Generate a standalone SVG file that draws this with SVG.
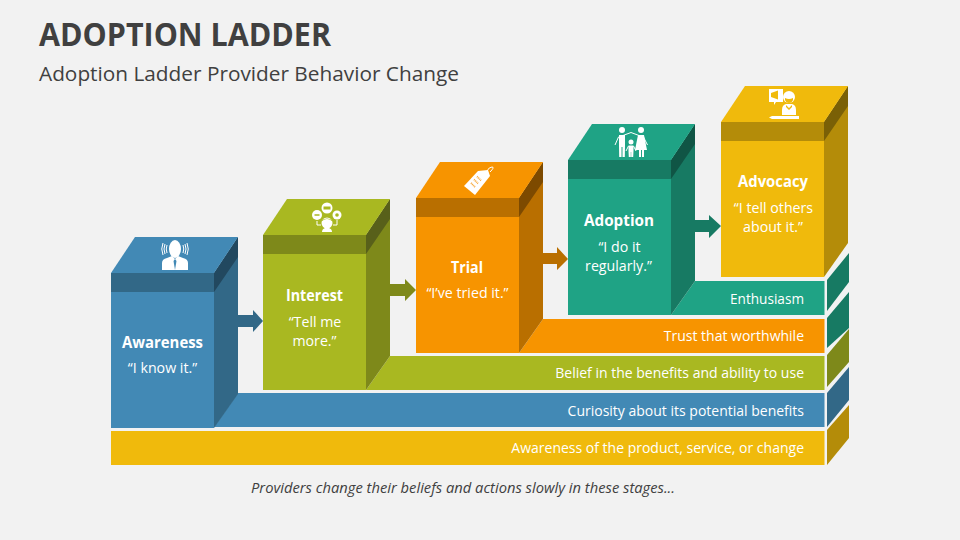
<svg xmlns="http://www.w3.org/2000/svg" width="960" height="540" viewBox="0 0 960 540">
<style>
text{font-family:"Open Sans","Noto Sans","Liberation Sans",sans-serif;fill:#fff}
.h{font-size:15.500px;font-weight:700;text-anchor:middle}
.q{font-size:14.200px;text-anchor:middle}
.b{font-size:14px;text-anchor:end}
.ic{fill:#fff}
.il{fill:none;stroke:#fff;stroke-width:1}
.blue{fill:#4289B5}.blued{fill:#326887}.bluex{fill:#22485F}
.olive{fill:#A9B821}.olived{fill:#7E891A}.olivex{fill:#58601A}
.orange{fill:#F79400}.oranged{fill:#B96F00}.orangex{fill:#7D4A00}
.teal{fill:#1FA385}.teald{fill:#177A63}.tealx{fill:#105545}
.yellow{fill:#F0BA0C}.yellowd{fill:#B48C09}.yellowx{fill:#7A6006}
</style>
<rect width="960" height="540" fill="#F2F2F2"/>
<text x="39" y="46" font-size="33" font-weight="700" textLength="292" lengthAdjust="spacingAndGlyphs" style="fill:#404040">ADOPTION LADDER</text>
<text x="39" y="81" font-size="20.800" style="fill:#404040">Adoption Ladder Provider Behavior Change</text>

<g id="band-awareness">
<rect class="yellow" x="111" y="431" width="713.500" height="34"/>
<polygon class="yellowd" points="827,430 849,405 849,438 827,465"/>
<text class="b" x="804" y="453">Awareness of the product, service, or change</text>
</g>
<g id="band-curiosity">
<polygon class="blue" points="238,393 824.500,393 824.500,427 214,427"/>
<polygon class="blued" points="827,393 849,367 849,400 827,427"/>
<text class="b" x="804" y="416">Curiosity about its potential benefits</text>
</g>
<g id="band-belief">
<polygon class="olive" points="390,356 824.500,356 824.500,390 366,390"/>
<polygon class="olived" points="827,355 849,329 849,362 827,387"/>
<text class="b" x="804" y="378">Belief in the benefits and ability to use</text>
</g>
<g id="band-trust">
<polygon class="orange" points="543,319 824.500,319 824.500,353 519,353"/>
<polygon class="teald" points="827,318 849,292 849,328 827,348"/>
<text class="b" x="804" y="341">Trust that worthwhile</text>
</g>
<g id="band-enthusiasm">
<polygon class="teal" points="695,281 824.500,281 824.500,315 671,315"/>
<polygon class="teald" points="827,280 849,253 849,282 827,311"/>
<text class="b" x="804" y="304" textLength="74" lengthAdjust="spacingAndGlyphs">Enthusiasm</text>
</g>

<g id="connectors">
<polygon class="blued" points="238,315 253,315 253,310 263,321 253,332 253,327 238,327"/>
<polygon class="olived" points="390,284 405,284 405,279 416,290 405,301 405,296 390,296"/>
<polygon class="oranged" points="543,253 557,253 557,247 568,259 557,270 557,264 543,264"/>
<polygon class="teald" points="695,220 709,220 709,215 721,226 709,238 709,232 695,232"/>
</g>

<g id="awareness">
<polygon class="blued" points="214,273 238,237 238,394 214,428"/>
<polygon class="bluex" points="214,273 238,237 238,257 214,292"/>
<polygon class="blue" points="111,273 135,237 238,237 214,273"/>
<rect class="blue" x="111" y="292" width="103" height="136"/>
<rect class="blued" x="111" y="273" width="103" height="19"/>
<text class="h" x="162.500" y="348" textLength="81" lengthAdjust="spacingAndGlyphs">Awareness</text>
<text class="q" x="162.500" y="373">“I know it.”</text>
<g>
<ellipse class="ic" cx="175" cy="249" rx="6" ry="9"/>
<path class="ic" d="M162 270v-7q0-4 5-5l5-2 3 3 3-3 5 2q5 1 5 5v7z"/>
<path d="M175 259l-1.500 2 1.500 9 1.500-9z" fill="#4289B5"/>
<path class="il" d="M167 245q-1.500 4 0 8M165 244q-2 5 0 10M163 243q-2.500 6 0 12M183 245q1.500 4 0 8M185 244q2 5 0 10M187 243q2.500 6 0 12" stroke-width=".7"/>
</g>
</g>

<g id="interest">
<polygon class="olived" points="366,235 390,199 390,356 366,390"/>
<polygon class="olivex" points="366,235 390,199 390,219 366,254"/>
<polygon class="olive" points="263,235 287,199 390,199 366,235"/>
<rect class="olive" x="263" y="254" width="103" height="136"/>
<rect class="olived" x="263" y="235" width="103" height="19"/>
<text class="h" x="314.500" y="301" textLength="57" lengthAdjust="spacingAndGlyphs">Interest</text>
<text class="q" x="315" y="327">“Tell me</text>
<text class="q" x="314.500" y="346">more.”</text>
<g>
<circle class="ic" cx="327" cy="208" r="5.500"/><circle class="ic" cx="317" cy="215" r="5"/><circle class="ic" cx="337" cy="215" r="4.500"/>
<circle class="ic" cx="327" cy="223" r="5.500"/>
<path class="ic" d="M322 232q0-3 3-4h4q3 1 3 4z"/>
<path class="il" d="M317 221v4h4M337 220v5h-4" stroke-width=".8"/>
<path d="M323.500 206.500h7v3h-7zM314.500 214.300h5v1.500h-5z" fill="#A9B821"/><circle cx="337" cy="215" r="1.800" fill="#A9B821"/>
<path d="M322 221q5-4 10 0v-1q-5-3-10 0z" fill="#A9B821"/>
</g>
</g>

<g id="trial">
<polygon class="oranged" points="519,198 543,162 543,319 519,353"/>
<polygon class="orangex" points="519,198 543,162 543,182 519,217"/>
<polygon class="orange" points="416,198 440,162 543,162 519,198"/>
<rect class="orange" x="416" y="217" width="103" height="136"/>
<rect class="oranged" x="416" y="198" width="103" height="19"/>
<text class="h" x="467" y="273" textLength="32" lengthAdjust="spacingAndGlyphs">Trial</text>
<text class="q" x="467.500" y="298">“I’ve tried it.”</text>
<g>
<polygon class="ic" points="464,186 478,171 488,170 490,176 475,195"/>
<path class="il" d="M487 171q2-4 5-4t-2 5" stroke-width=".8"/>
<path d="M471 183l4 4M474 179.500l4 4M477 176.500l4 4" stroke="#F7A93A" stroke-width="1.800" stroke-dasharray="1 .6" fill="none"/>
</g>
</g>

<g id="adoption">
<polygon class="teald" points="671,160 695,124 695,281 671,315"/>
<polygon class="tealx" points="671,160 695,124 695,144 671,179"/>
<polygon class="teal" points="568,160 592,124 695,124 671,160"/>
<rect class="teal" x="568" y="179" width="103" height="136"/>
<rect class="teald" x="568" y="160" width="103" height="19"/>
<text class="h" x="619" y="226" textLength="70" lengthAdjust="spacingAndGlyphs">Adoption</text>
<text class="q" x="619.500" y="252">“I do it</text>
<text class="q" x="618.500" y="271">regularly.”</text>
<g>
<circle class="ic" cx="622" cy="130" r="3"/><circle class="ic" cx="641" cy="130" r="3"/><circle class="ic" cx="631" cy="142" r="2.500"/>
<path class="il" d="M615 145l3.500-8 4.500-1.500 8-3 8 3 4.500 1.500 4 8" stroke-width="2"/>
<path class="ic" d="M619 135h6v11l-.2 11h-2.300v-10h-1v10h-2.300l-.2-11zM638 135h6l3 15h-3v7h-2v-7h-1v7h-2v-7h-4z"/>
<path class="ic" d="M628.500 145.500h5v5.500l-.3 6h-2v-5h-.4v5h-2l-.3-6z"/>
<path class="il" d="M626 151l2.500-5M636 151l-2.500-5" stroke-width="1.200"/>
</g>
</g>

<g id="advocacy">
<polygon class="yellowd" points="824,122 848,86 848,243 824,277"/>
<polygon class="yellowx" points="824,122 848,86 848,106 824,141"/>
<polygon class="yellow" points="721,122 745,86 848,86 824,122"/>
<rect class="yellow" x="721" y="141" width="103" height="136"/>
<rect class="yellowd" x="721" y="122" width="103" height="19"/>
<text class="h" x="773" y="187" textLength="70" lengthAdjust="spacingAndGlyphs">Advocacy</text>
<text class="q" x="773.500" y="213">“I tell others</text>
<text class="q" x="773" y="232">about it.”</text>
<g>
<path class="ic" d="M769 89h14v13h-7l-2 3v-3h-5z"/>
<path d="M771 93l7-2.500v9l-7-2.500z" fill="#F0BA0C"/>
<circle class="ic" cx="789" cy="97" r="6"/>
<path class="ic" d="M782 115v-5q0-5 4-6h6q4 1 4 6v5z"/>
<path d="M785 98q4 2 8 0v2q-1 3-4 3t-4-3zM786 105l3 3 3-3v2l-3 3-3-3z" fill="#F0BA0C"/>
<path class="ic" d="M769 117.500l3-1.500h27v3h-27z"/>
</g>
</g>

<text x="463" y="493" font-size="14" font-style="italic" text-anchor="middle" textLength="424" lengthAdjust="spacingAndGlyphs" style="fill:#404040">Providers change their beliefs and actions slowly in these stages...</text>
</svg>
